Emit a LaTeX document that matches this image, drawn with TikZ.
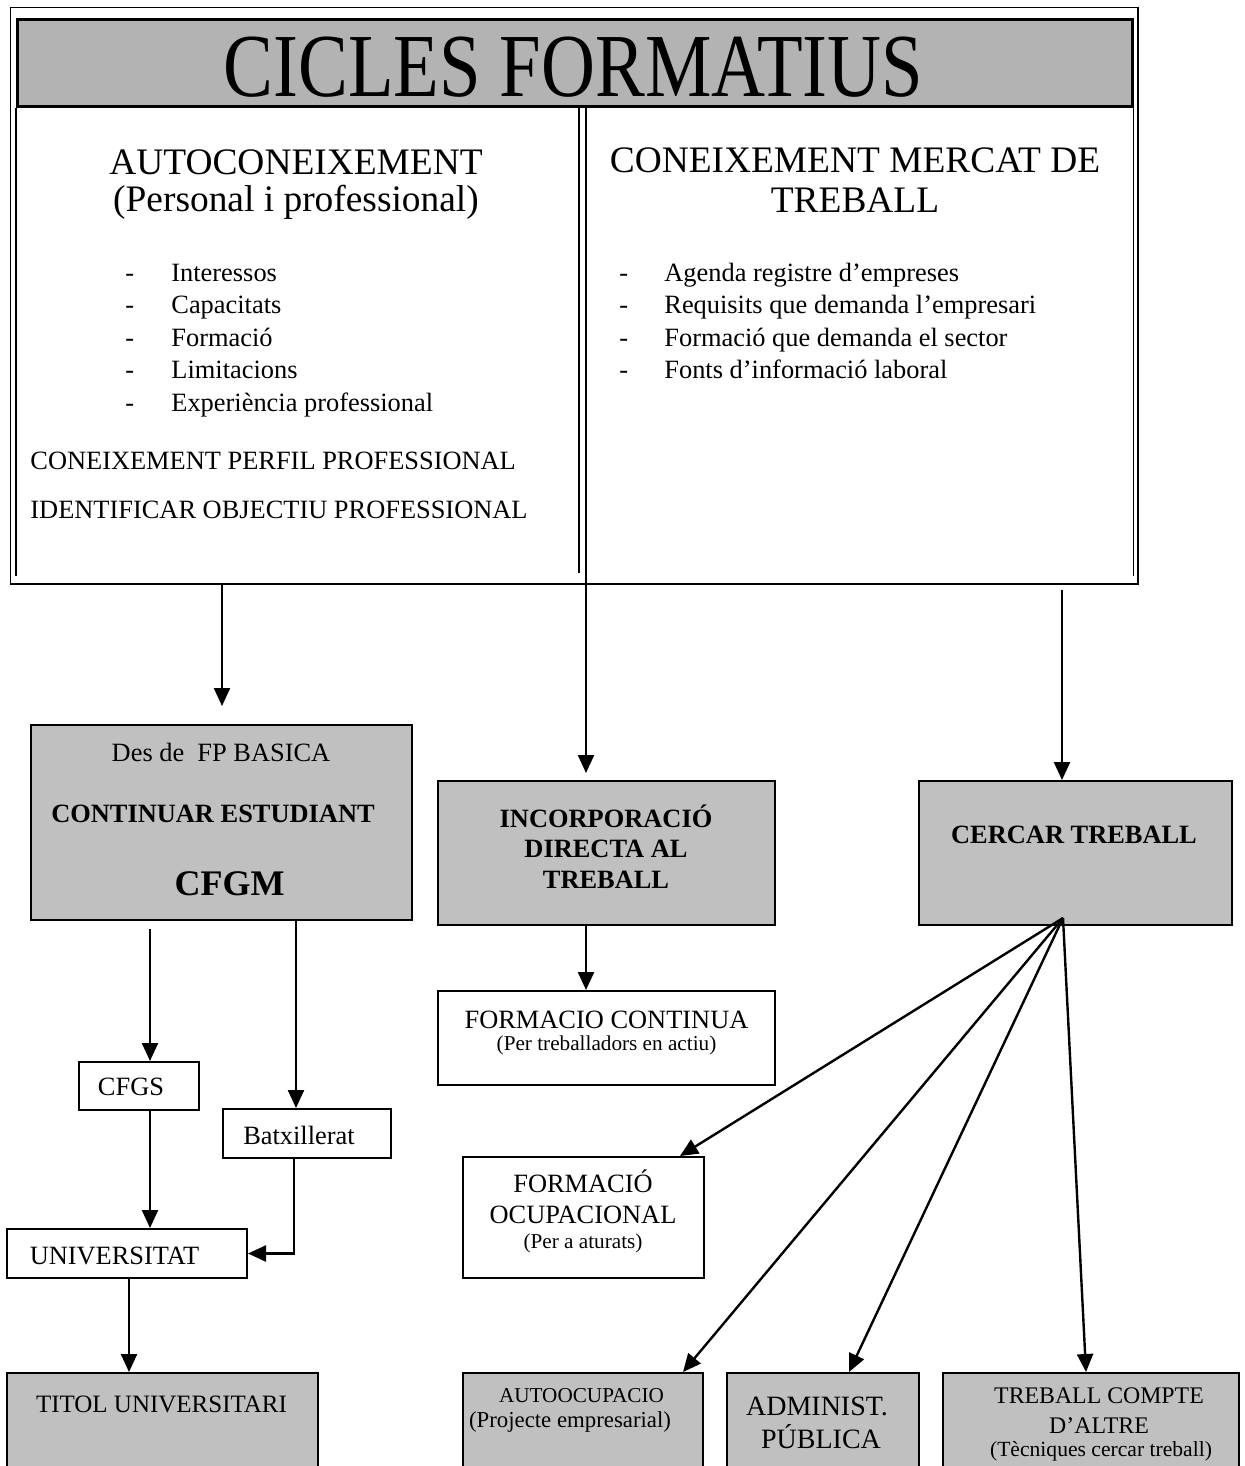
\documentclass[tikz,border=0pt]{standalone}
\usepackage{fontspec}
\usepackage{graphicx}
\setmainfont{Liberation Serif}
\usetikzlibrary{arrows.meta}
\definecolor{boxgray}{RGB}{192,192,192}
\definecolor{bandgray}{RGB}{179,179,179}
\tikzset{
  box/.style={draw=black, line width=1pt, inner sep=0pt, anchor=north west},
  gbox/.style={box, fill=boxgray},
  wbox/.style={box, fill=white},
  arr/.style={line width=1.2pt, -{Triangle[length=9pt,width=8pt]}},
  txt/.style={anchor=base, inner sep=0pt, font=\fontsize{13.2}{15}\selectfont},
  txtl/.style={txt, anchor=base west},
  btxt/.style={txt, font=\fontsize{13.2}{15}\selectfont\bfseries},
  head/.style={txt, font=\fontsize{18.7}{22}\selectfont},
  small/.style={txt, font=\fontsize{10.6}{12}\selectfont},
}
\begin{document}
\begin{tikzpicture}[x=0.5pt,y=-0.5pt]
\useasboundingbox (0,0) rectangle (1245,1466);
\clip (0,0) rectangle (1245,1466);
\fill[white] (0,0) rectangle (1245,1466);

% ---- top frame ----
\node[box, line width=0.75pt, minimum width=563.75pt, minimum height=288pt] (frame) at (9.5,7) {};
\node[box, fill=bandgray, line width=1.3pt, minimum width=557.5pt, minimum height=43.5pt] (band) at (16,18) {};
\draw[line width=0.75pt] (band.south west) -- ++(0,468);
\draw[line width=0.75pt] (band.south east) -- ++(0,468);
\coordinate (dv1) at (579,105);
\coordinate (dv2) at (586,105);
\draw[line width=0.75pt] (dv1) -- ++(0,468);

\node[anchor=base, inner sep=0pt] (title) at (573.5,97)
  {\fontsize{45}{50}\selectfont\scalebox{0.83}[1]{CICLES FORMATIUS}};

\node[head] (h1a) at (296,175) {AUTOCONEIXEMENT};
\node[head] (h1b) at (296,212) {(Personal i professional)};
\node[head] (h2a) at (855,173) {CONEIXEMENT MERCAT DE};
\node[head] (h2b) at (855,213) {TREBALL};

\foreach \t [count=\i from 0] in {Interessos,Capacitats,Formació,Limitacions,Experiència professional}{
  \node[txtl] (ld\i) at (125,281+32.5*\i) {-};
  \node[txtl] (li\i) at (171,281+32.5*\i) {\t};
}
\foreach \t [count=\i from 0] in {Agenda registre d’empreses,Requisits que demanda l’empresari,Formació que demanda el sector,Fonts d’informació laboral}{
  \node[txtl] (rd\i) at (619,281+32.5*\i) {-};
  \node[txtl] (ri\i) at (664,281+32.5*\i) {\t};
}
\node[txtl] (perfil) at (30,469) {CONEIXEMENT PERFIL PROFESSIONAL};
\node[txtl] (objectiu) at (30,518) {IDENTIFICAR OBJECTIU PROFESSIONAL};

% ---- boxes ----
\node[gbox, minimum width=190.5pt, minimum height=97.5pt] (lb) at (30,724) {};
\node[gbox, minimum width=168.5pt, minimum height=72pt] (inc) at (437,780) {};
\node[gbox, minimum width=156.5pt, minimum height=72pt] (cer) at (918,780) {};
\node[wbox, minimum width=168.5pt, minimum height=47pt] (fc) at (437,990) {};
\node[wbox, minimum width=120.5pt, minimum height=60.5pt] (fo) at (462,1156) {};
\node[wbox, minimum width=60pt, minimum height=24pt] (cfgs) at (78,1061) {};
\node[wbox, minimum width=84pt, minimum height=24.5pt] (batx) at (222,1108) {};
\node[wbox, minimum width=120pt, minimum height=24.5pt] (univ) at (6,1228) {};
\node[gbox, minimum width=155.5pt, minimum height=56pt] (titol) at (6,1372) {};
\node[gbox, minimum width=120pt, minimum height=56pt] (auto) at (462,1372) {};
\node[gbox, minimum width=96pt, minimum height=56pt] (adm) at (726,1372) {};
\node[gbox, minimum width=148pt, minimum height=56pt] (tca) at (942,1372) {};

% ---- box texts ----
\node[txt] (lbt1) at (221,761) {Des de\ \ FP BASICA};
\node[btxt] (lbt2) at (213,822) {CONTINUAR ESTUDIANT};
\node[txt, font=\fontsize{18}{20}\selectfont\bfseries] (lbt3) at (229.5,895) {CFGM};

\node[btxt] (inct1) at (606,827) {INCORPORACIÓ};
\node[btxt] (inct2) at (606,857) {DIRECTA AL};
\node[btxt] (inct3) at (606,888) {TREBALL};
\node[btxt] (cert) at (1074,843) {CERCAR TREBALL};

\node[txt] (fct1) at (606.5,1028) {FORMACIO CONTINUA};
\node[small] (fct2) at (606.5,1050) {(Per treballadors en actiu)};

\node[txt] (fot1) at (583,1192) {FORMACIÓ};
\node[txt] (fot2) at (583,1223) {OCUPACIONAL};
\node[small] (fot3) at (583,1248) {(Per a aturats)};

\node[txt] (cfgst) at (131,1095) {CFGS};
\node[txt] (batxt) at (299,1144) {Batxillerat};
\node[txt] (univt) at (114.5,1264) {UNIVERSITAT};
\node[txt, font=\fontsize{12.5}{15}\selectfont] (titolt) at (161.5,1412) {TITOL UNIVERSITARI};

\node[txt, font=\fontsize{10.6}{12}\selectfont] (autot1) at (581.5,1402) {AUTOOCUPACIO};
\node[txt, font=\fontsize{11.4}{13}\selectfont] (autot2) at (570,1427) {(Projecte empresarial)};
\node[txt, font=\fontsize{14}{16}\selectfont] (admt1) at (817,1415) {ADMINIST.};
\node[txt, font=\fontsize{14}{16}\selectfont] (admt2) at (821,1448) {PÚBLICA};
\node[txt, font=\fontsize{11.9}{14}\selectfont] (tcat1) at (1099,1403) {TREBALL COMPTE};
\node[txt, font=\fontsize{11.9}{14}\selectfont] (tcat2) at (1099,1433) {D’ALTRE};
\node[txt, font=\fontsize{10.8}{13}\selectfont] (tcat3) at (1101,1456) {(Tècniques cercar treball)};

% ---- connectors ----
\coordinate (x222) at (222,0);
\coordinate (x1062) at (1062,0);
\coordinate (x150) at (150,0);
\coordinate (x296) at (296,0);
\coordinate (x294) at (294,0);
\coordinate (x129) at (129,0);
\coordinate (fan) at (1063,918);
\coordinate (x680) at (680,0);
\coordinate (x683) at (683,0);
\coordinate (x849) at (849,0);
\coordinate (x1086) at (1086,0);

\draw[arr, shorten >=9pt] (x222 |- frame.south) -- (x222 |- lb.north);
\draw[arr, shorten >=3.5pt] (dv2) -- (dv2 |- inc.north);
\draw[arr, shorten <=2.5pt] (x1062 |- frame.south) -- (x1062 |- cer.north);
\draw[arr] (dv2 |- inc.south) -- (dv2 |- fc.north);
\draw[arr, shorten <=4pt] (x150 |- lb.south) -- (x150 |- cfgs.north);
\draw[arr] (x296 |- lb.south) -- (x296 |- batx.north);
\draw[arr] (x150 |- cfgs.south) -- (x150 |- univ.north);
\draw[arr] (x294 |- batx.south) |- (univ.east);
\draw[arr] (x129 |- univ.south) -- (x129 |- titol.north);
\draw[arr] (fan) -- (x680 |- fo.north);
\draw[arr] (fan) -- (x683 |- auto.north);
\draw[arr] (fan) -- (x849 |- adm.north);
\draw[arr] (fan) -- (x1086 |- tca.north);
\end{tikzpicture}
\end{document}
